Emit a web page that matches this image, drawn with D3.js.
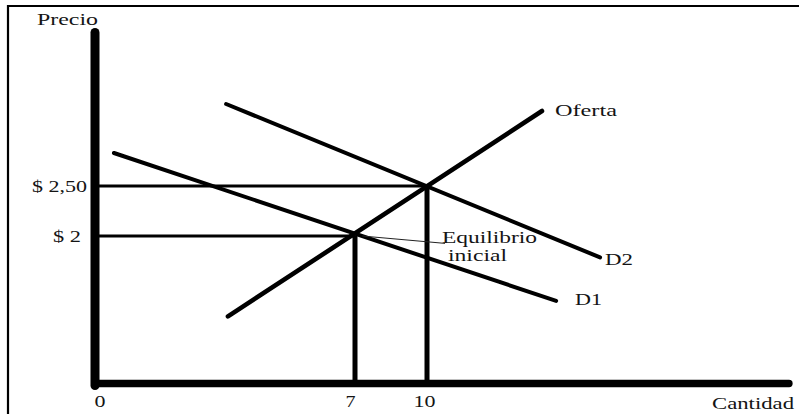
<!DOCTYPE html>
<html>
<head>
<meta charset="utf-8">
<script src="https://cdn.jsdelivr.net/npm/d3@7"></script>
<style>
  html, body { margin: 0; padding: 0; background: #fff; }
  svg { display: block; }
  text { font-family: "Liberation Serif", "Times New Roman", serif; font-size: 17px; fill: #141414; }
  text.ann { font-size: 16px; }
</style>
</head>
<body>
<svg id="chart" width="799" height="414"></svg>
<script>
// ---- data ----
const quantityTicks = [0, 7, 10];
const quantityTickLabels = ["0", "7", "10"];
const priceTicks = [2.5, 2];
const priceTickLabels = ["$ 2,50", "$ 2"];

const equilibriumQ = [7, 10];
const equilibriumP = [2, 2.5];

const supplyQ = [3.58, 14.79];
const supplyP = [0.91, 3.25];
const demand1Q = [0.51, 15.38];
const demand1P = [2.83, 1.12];
const demand2Q = [3.53, 17.21];
const demand2P = [3.32, 1.71];

const curveNames = ["Oferta", "D1", "D2"];
const annotationText = ["Equilibrio", "inicial"];
const annotationQ = [7.3, 10.75];
const annotationP = [2, 1.9];

// ---- layout ----
const svg = d3.select("#chart");
// schematic (piecewise) scales as drawn in the original sketch
const x = d3.scaleLinear().domain([0, 7, 10]).range([95, 355, 427]);
const y = d3.scaleLinear().domain([0, 2, 2.5]).range([383.5, 236, 186]);

// frame
svg.append("line").attr("x1", 7).attr("x2", 799).attr("y1", 6).attr("y2", 6)
  .attr("stroke", "#000").attr("stroke-width", 2.2);
svg.append("line").attr("x1", 8).attr("x2", 8).attr("y1", 5).attr("y2", 414)
  .attr("stroke", "#000").attr("stroke-width", 2.2);

// guide lines to equilibria
const eq = equilibriumQ.map((q, i) => ({ q, p: equilibriumP[i] }));
svg.selectAll("line.h").data(eq).join("line").attr("class", "h")
  .attr("x1", x(0)).attr("x2", d => x(d.q))
  .attr("y1", d => y(d.p)).attr("y2", d => y(d.p))
  .attr("stroke", "#000").attr("stroke-width", 3);
svg.selectAll("line.v").data(eq).join("line").attr("class", "v")
  .attr("x1", d => x(d.q)).attr("x2", d => x(d.q))
  .attr("y1", d => y(d.p)).attr("y2", y(0))
  .attr("stroke", "#000").attr("stroke-width", 5);

// curves
const curves = [
  { name: curveNames[0], q: supplyQ, p: supplyP, w: 4.6, dx: 13, dy: 5 },
  { name: curveNames[1], q: demand1Q, p: demand1P, w: 4, dx: 19, dy: 4 },
  { name: curveNames[2], q: demand2Q, p: demand2P, w: 4, dx: 5, dy: 8 }
];
const line = d3.line().x(d => x(d[0])).y(d => y(d[1]));
svg.selectAll("path.curve").data(curves).join("path").attr("class", "curve")
  .attr("d", c => line(c.q.map((q, i) => [q, c.p[i]])))
  .attr("fill", "none").attr("stroke", "#000")
  .attr("stroke-width", c => c.w).attr("stroke-linecap", "round");
const labelWidths = { "Oferta": 62, "D1": 27, "D2": 28 };
svg.selectAll("text.curve").data(curves).join("text").attr("class", "curve")
  .attr("x", c => x(c.q[1]) + c.dx).attr("y", c => y(c.p[1]) + c.dy)
  .attr("textLength", c => labelWidths[c.name]).attr("lengthAdjust", "spacingAndGlyphs")
  .text(c => c.name);

// annotation leader
svg.append("line")
  .attr("x1", x(annotationQ[0])).attr("y1", y(annotationP[0]))
  .attr("x2", x(annotationQ[1])).attr("y2", y(annotationP[1]))
  .attr("stroke", "#222").attr("stroke-width", 1);
svg.append("text").attr("class", "ann").attr("x", 442).attr("y", 243)
  .attr("textLength", 95).attr("lengthAdjust", "spacingAndGlyphs").text(annotationText[0]);
svg.append("text").attr("class", "ann").attr("x", 448).attr("y", 261)
  .attr("textLength", 59).attr("lengthAdjust", "spacingAndGlyphs").text(annotationText[1]);

// axes lines (thick)
svg.append("line").attr("x1", x(0)).attr("x2", x(0)).attr("y1", 32.5).attr("y2", y(0) + 2)
  .attr("stroke", "#000").attr("stroke-width", 9).attr("stroke-linecap", "round");
svg.append("line").attr("x1", x(0)).attr("x2", 789).attr("y1", y(0)).attr("y2", y(0))
  .attr("stroke", "#000").attr("stroke-width", 7.3).attr("stroke-linecap", "round");

// tick labels via d3 axes
const xTickDx = [4.5, -5, -3];
const xTickW = [11, 10, 22];
const gx = svg.append("g").attr("transform", `translate(0,${y(0)})`)
  .call(d3.axisBottom(x).tickValues(quantityTicks)
    .tickFormat((d, i) => quantityTickLabels[i]).tickSize(0).tickPadding(11.5));
gx.select(".domain").remove();
gx.selectAll("text").attr("font-size", null).attr("font-family", null)
  .attr("dx", (d, i) => xTickDx[i])
  .attr("textLength", (d, i) => xTickW[i]).attr("lengthAdjust", "spacingAndGlyphs");

const yTickDx = [-3.5, -9.5];
const yTickW = [55, 28];
const gy = svg.append("g").attr("transform", `translate(${x(0)},0)`)
  .call(d3.axisLeft(y).tickValues(priceTicks)
    .tickFormat((d, i) => priceTickLabels[i]).tickSize(0).tickPadding(4.5));
gy.select(".domain").remove();
gy.selectAll("text").attr("font-size", null).attr("font-family", null)
  .attr("dx", (d, i) => yTickDx[i])
  .attr("textLength", (d, i) => yTickW[i]).attr("lengthAdjust", "spacingAndGlyphs");

// axis titles
svg.append("text").attr("x", 37).attr("y", 25)
  .attr("textLength", 61).attr("lengthAdjust", "spacingAndGlyphs").text("Precio");
svg.append("text").attr("x", 712).attr("y", 409)
  .attr("textLength", 82).attr("lengthAdjust", "spacingAndGlyphs").text("Cantidad");
</script>
</body>
</html>
